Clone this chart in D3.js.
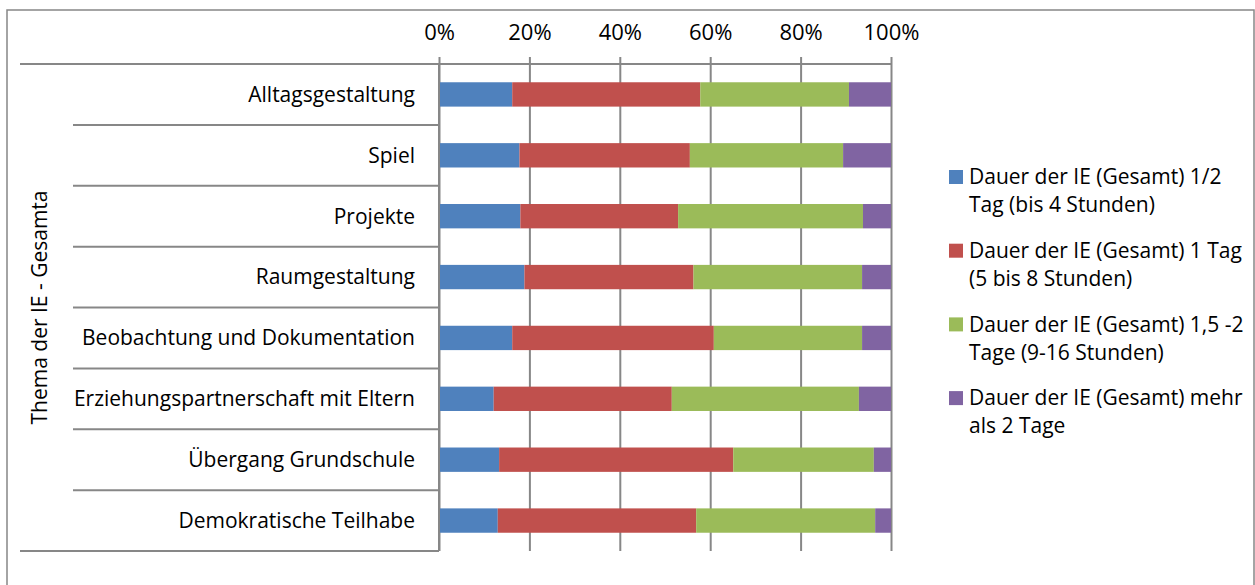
<!DOCTYPE html>
<html><head><meta charset="utf-8">
<script src="https://cdn.jsdelivr.net/npm/d3@7"></script>
<style>
html,body{margin:0;padding:0;background:#fff;}
svg{display:block;font-family:"Open Sans",sans-serif;}
</style></head>
<body><svg id="c" width="1255" height="585"></svg>
<script>
const categories = ["Alltagsgestaltung","Spiel","Projekte","Raumgestaltung","Beobachtung und Dokumentation","Erziehungspartnerschaft mit Eltern","Übergang Grundschule","Demokratische Teilhabe"];
const halfDay   = [16.2,17.8,18.0,18.9,16.2,12.1,13.3,13.0];
const oneDay    = [41.6,37.7,34.9,37.4,44.6,39.4,51.8,43.9];
const twoDays   = [32.9,33.9,40.9,37.3,32.8,41.4,31.1,39.6];
const moreDays  = [9.3,10.6,6.2,6.4,6.4,7.1,3.8,3.5];
const seriesNames = [
  ["Dauer der IE (Gesamt) 1/2","Tag (bis 4 Stunden)"],
  ["Dauer der IE (Gesamt) 1 Tag","(5 bis 8 Stunden)"],
  ["Dauer der IE (Gesamt) 1,5 -2","Tage (9-16 Stunden)"],
  ["Dauer der IE (Gesamt) mehr","als 2 Tage"]
];
const colors = ["#4F81BD","#C0504D","#9BBB59","#8064A2"];
const tickValues = [0,0.2,0.4,0.6,0.8,1.0];
const axisTitle = "Thema der IE - Gesamta";

const series = [halfDay, oneDay, twoDays, moreDays];
const rows = categories.map((c,i)=>{
  const vals = series.map(s=>s[i]);
  const tot = d3.sum(vals);
  const o = {cat:c};
  vals.forEach((v,j)=>o["s"+j]=v/tot);
  return o;
});
const stack = d3.stack().keys(["s0","s1","s2","s3"])(rows);

const svg = d3.select("#c");
const grey = "#878787";
const L=439, R=891, T=64, B=551;
const x = d3.scaleLinear().domain([0,1]).range([L,R]);
const y = d3.scaleBand().domain(categories).range([T,B]).paddingInner(0.6).paddingOuter(0.3);
const yb = d3.scaleBand().domain(categories).range([T,B]);

// outer border
svg.append("rect").attr("x",7).attr("y",10).attr("width",1247).attr("height",600)
  .attr("fill","none").attr("stroke",grey).attr("stroke-width",1.5);

// gridlines + top axis
const xa = d3.axisTop(x).tickValues(tickValues).tickFormat(d3.format(".0%")).tickSize(B-T+7).tickSizeOuter(0).tickPadding(0);
const gx = svg.append("g").attr("transform",`translate(0,${B})`).call(xa);
gx.select(".domain").remove();
gx.selectAll(".tick line").attr("stroke",grey).attr("stroke-width",2);
gx.selectAll(".tick text").attr("fill","#000").attr("font-size",22)
  .attr("font-family","Open Sans").attr("y",-(B-32)).attr("dy","0.35em");

// top horizontal axis line
svg.append("line").attr("x1",20).attr("x2",R).attr("y1",T).attr("y2",T).attr("stroke",grey).attr("stroke-width",2);

// bars
svg.append("g").selectAll("g").data(stack).join("g").attr("fill",(d,i)=>colors[i])
  .selectAll("rect").data(d=>d).join("rect")
  .attr("x",d=>x(d[0])).attr("width",d=>x(d[1])-x(d[0]))
  .attr("y",d=>y(d.data.cat)).attr("height",y.bandwidth());

// category axis
svg.append("line").attr("x1",L).attr("x2",L).attr("y1",T).attr("y2",B).attr("stroke",grey).attr("stroke-width",2);
const bounds = categories.slice(1).map(c=>yb(c));
svg.append("g").selectAll("line").data(bounds).join("line")
  .attr("x1",73).attr("x2",L).attr("y1",d=>d).attr("y2",d=>d).attr("stroke",grey).attr("stroke-width",2);
svg.append("line").attr("x1",20).attr("x2",L).attr("y1",B).attr("y2",B).attr("stroke",grey).attr("stroke-width",2);

svg.append("g").selectAll("text").data(categories).join("text")
  .attr("x",415).attr("y",d=>yb(d)+yb.bandwidth()/2).attr("dy","0.35em")
  .attr("text-anchor","end").attr("font-size",21).attr("fill","#000").text(d=>d);

svg.append("text").attr("transform",`translate(47,${(T+B)/2}) rotate(-90)`)
  .attr("text-anchor","middle").attr("font-size",21).attr("fill","#000").text(axisTitle);

// legend
const lg = svg.append("g").attr("transform","translate(949,177)");
const items = lg.selectAll("g").data(seriesNames).join("g").attr("transform",(d,i)=>`translate(0,${i*73.7})`);
items.append("rect").attr("x",0).attr("y",-7).attr("width",14).attr("height",14).attr("fill",(d,i)=>colors[i]);
items.each(function(d){
  const t = d3.select(this).append("text").attr("x",20).attr("font-size",21).attr("fill","#000");
  d.forEach((line,k)=>t.append("tspan").attr("x",20).attr("y",k*28).attr("dy","0.35em").text(line));
});
</script></body></html>
